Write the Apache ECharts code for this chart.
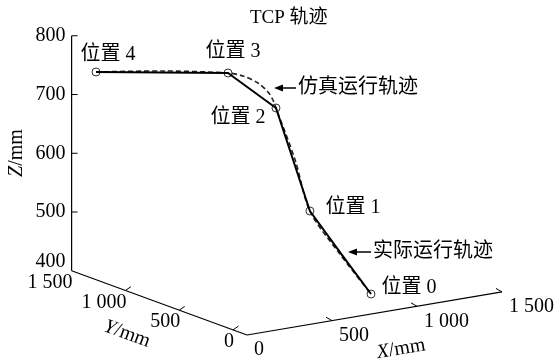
<!DOCTYPE html>
<html>
<head>
<meta charset="utf-8">
<script src="https://cdn.jsdelivr.net/npm/echarts@6/dist/echarts.min.js"></script>
<style>
  html, body { margin: 0; padding: 0; background: #fff; }
  #chart { width: 555px; height: 363px; }
</style>
</head>
<body>
<div id="chart"></div>
<script>
// key positions (mm)
const posNames = ['位置 0', '位置 1', '位置 2', '位置 3', '位置 4'];
const posX = [853, 777, 675, 608, 88];
const posY = [65, 513, 667, 1007, 1412];
const posZ = [415, 530, 700, 740, 740];

// measured (actual) trajectory, solid line
const actualX = [88, 608, 675, 726, 777, 815, 853];
const actualY = [1412, 1007, 667, 590, 513, 289, 65];
const actualZ = [740, 740, 700, 615, 530, 472, 415];

// simulated trajectory, dashed line
const simX = [88, 352, 608, 648, 670, 676, 673, 675, 732, 777, 808, 853];
const simY = [1412, 1215, 1007, 931, 827, 743, 692, 667, 580, 513, 292, 65];
const simZ = [740, 742, 740, 738, 732, 722, 712, 700, 615, 530, 472, 415];

// axis ticks
const xTicks = [0, 500, 1000, 1500];
const yTicks = [0, 500, 1000, 1500];
const zTicks = [400, 500, 600, 700, 800];
const xTickLabels = ['0', '500', '1 000', '1 500'];
const yTickLabels = ['0', '500', '1 000', '1 500'];
const zTickLabels = ['400', '500', '600', '700', '800'];

// box limits
const X_MIN = 0, X_MAX = 1500, Y_MIN = -130, Y_MAX = 1500, Z_MIN = 400, Z_MAX = 800;

// oblique projection onto the 2D plane used by the hidden axes
const ORIGIN = [247, 335];
const EX = [0.17, -0.0287];
const EY = [-0.1076, -0.0394];
const EZ = [0, -0.5875];
function proj(x, y, z) {
  const dx = x - X_MIN, dy = y - Y_MIN, dz = z - Z_MIN;
  return [
    ORIGIN[0] + dx * EX[0] + dy * EY[0] + dz * EZ[0],
    ORIGIN[1] + dx * EX[1] + dy * EY[1] + dz * EZ[1]
  ];
}
function path(xs, ys, zs) {
  return xs.map((x, i) => proj(x, ys[i], zs[i]));
}

const SERIF = '"Liberation Serif", "Times New Roman", "Noto Sans CJK SC", serif';
const labelOffsets = [[38, -6], [43, -3], [-38, 10], [5, -21], [12, -17]];

function renderFrame(params, api) {
  const P = (x, y, z) => api.coord(proj(x, y, z));
  const children = [];
  const line = (a, b, w) => children.push({
    type: 'line',
    shape: { x1: a[0], y1: a[1], x2: b[0], y2: b[1] },
    style: { stroke: '#000', lineWidth: w || 1 }
  });
  const text = (p, str, align, extra) => children.push(Object.assign({
    type: 'text', x: p[0], y: p[1],
    style: { text: str, fill: '#000', fontSize: 20, fontFamily: SERIF, align: align, verticalAlign: 'middle' }
  }, extra || {}));

  // axis lines
  line(P(X_MIN, Y_MIN, Z_MIN), P(X_MAX, Y_MIN, Z_MIN), 1.2);
  line(P(X_MIN, Y_MIN, Z_MIN), P(X_MIN, Y_MAX, Z_MIN), 1.2);
  line(P(X_MIN, Y_MAX, Z_MIN), P(X_MIN, Y_MAX, Z_MAX), 1.2);

  xTicks.forEach((v, i) => {
    const p = P(v, Y_MIN, Z_MIN);
    if (v !== X_MIN) line(p, [p[0] - 6, p[1] - 3.5]);
    text([p[0] + 7, p[1] + 15], xTickLabels[i], 'left');
  });
  yTicks.forEach((v, i) => {
    const p = P(X_MIN, v, Z_MIN);
    if (v !== Y_MAX) line(p, [p[0] + 5.5, p[1] - 3.8]);
    text([p[0] + 1, p[1] + 12], yTickLabels[i], 'right');
  });
  zTicks.forEach((v, i) => {
    const p = P(X_MIN, Y_MAX, v);
    if (v !== Z_MIN) line(p, [p[0] + 6, p[1]]);
    text([p[0] - 6, p[1] + (v === Z_MIN ? -9 : 0)], zTickLabels[i], 'right');
  });

  // position labels
  posNames.forEach((n, i) => {
    const p = P(posX[i], posY[i], posZ[i]);
    text([p[0] + labelOffsets[i][0], p[1] + labelOffsets[i][1]], n, 'center');
  });

  // axis names
  const rich = {
    i: { fontStyle: 'italic', fontSize: 20, fontFamily: SERIF, fill: '#000' },
    n: { fontSize: 20, fontFamily: SERIF, fill: '#000' }
  };
  const name = (p, s, rot) => children.push({
    type: 'text', x: p[0], y: p[1], rotation: rot,
    style: { text: '{i|' + s + '}{n|/mm}', rich: rich, align: 'center', verticalAlign: 'middle' }
  });
  name([401, 349], 'X', Math.atan2(-EX[1], EX[0]));
  name([127, 334], 'Y', -Math.atan2(EY[1], EY[0]) + Math.PI);
  name([17, 153], 'Z', Math.PI / 2);

  return { type: 'group', children: children };
}

const chart = echarts.init(document.getElementById('chart'));
chart.setOption({
  animation: false,
  title: {
    text: 'TCP 轨迹', left: 250, top: 9, padding: 0,
    textStyle: { fontSize: 19, fontWeight: 'normal', fontFamily: SERIF, color: '#000' }
  },
  grid: { left: 0, right: 0, top: 0, bottom: 0 },
  xAxis: { type: 'value', min: 0, max: 555, show: false },
  yAxis: { type: 'value', min: 0, max: 363, inverse: true, show: false },
  graphic: [
    { type: 'polygon', shape: { points: [[274, 88], [283, 84.5], [283, 91.5]] }, style: { fill: '#000' } },
    { type: 'line', shape: { x1: 280, y1: 88, x2: 296, y2: 88 }, style: { stroke: '#000', lineWidth: 1.5 } },
    { type: 'text', x: 298, y: 88, style: { text: '仿真运行轨迹', fontSize: 20, fontFamily: SERIF, fill: '#000', verticalAlign: 'middle' } },
    { type: 'polygon', shape: { points: [[348, 252], [357, 248.5], [357, 255.5]] }, style: { fill: '#000' } },
    { type: 'line', shape: { x1: 354, y1: 252, x2: 371, y2: 252 }, style: { stroke: '#000', lineWidth: 1.5 } },
    { type: 'text', x: 373, y: 252, style: { text: '实际运行轨迹', fontSize: 20, fontFamily: SERIF, fill: '#000', verticalAlign: 'middle' } }
  ],
  series: [
    {
      type: 'custom', silent: true, data: [[0, 0]],
      renderItem: renderFrame
    },
    {
      name: '仿真运行轨迹', type: 'line', data: path(simX, simY, simZ),
      showSymbol: false, smooth: 0.3, silent: true,
      lineStyle: { color: '#222', width: 1.6, type: [5, 3] }
    },
    {
      name: '实际运行轨迹', type: 'line', data: path(actualX, actualY, actualZ),
      showSymbol: false, silent: true,
      lineStyle: { color: '#000', width: 2 }
    },
    {
      type: 'scatter', silent: true, symbol: 'circle', symbolSize: 8,
      itemStyle: { color: 'rgba(255,255,255,0)', borderColor: '#000', borderWidth: 1 },
      data: posNames.map((n, i) => proj(posX[i], posY[i], posZ[i]))
    }
  ]
});
</script>
</body>
</html>
